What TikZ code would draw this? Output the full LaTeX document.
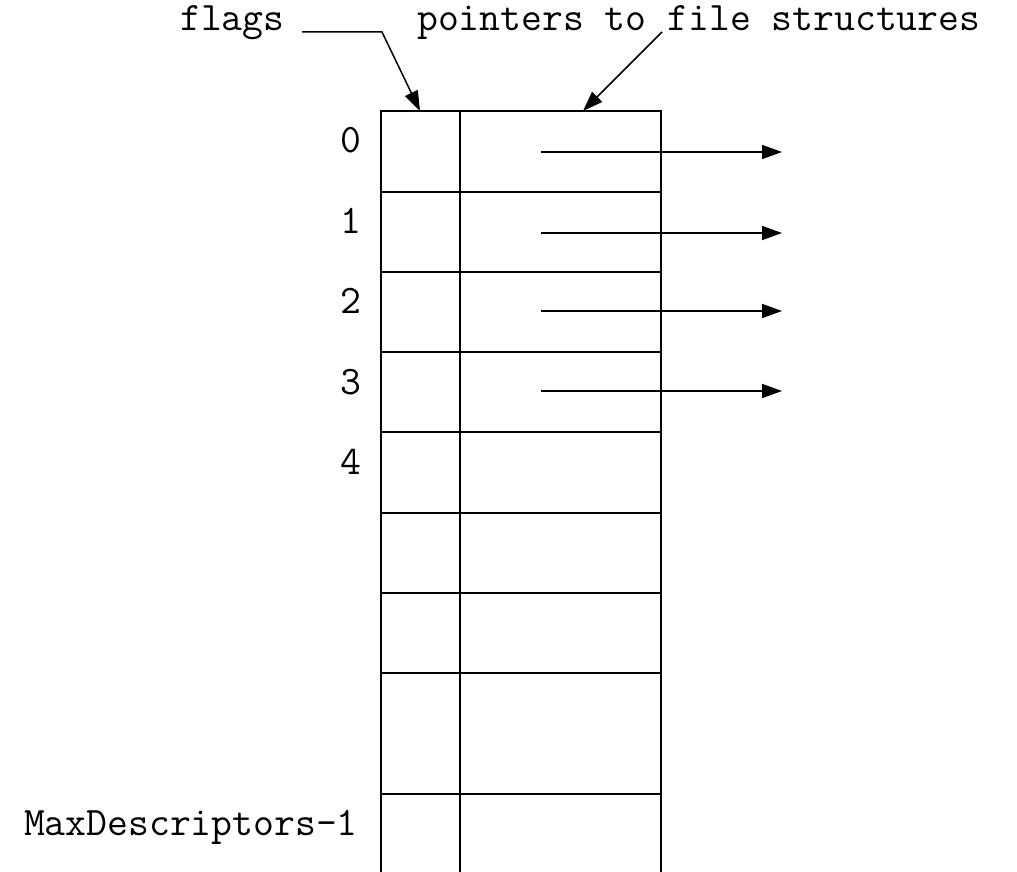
\documentclass[tikz,border=0pt]{standalone}
\usetikzlibrary{arrows.meta}
\begin{document}
\begin{tikzpicture}[x=1pt,y=-1pt,
  grid/.style={line width=1.5pt},
  ptr/.style={line width=1.5pt,-{Triangle[length=20pt,width=14pt]}},
  lbl/.style={inner sep=0pt,font=\ttfamily\fontsize{40.5}{46}\selectfont}]
\useasboundingbox (0,0) rectangle (1017,872);
% table
\draw[grid] (381,872) -- (381,111) -- (661,111) -- (661,872);
\draw[grid] (460,111) -- (460,872);
\foreach \y in {192,272,352,432,513,593,673,794}
  \draw[grid] (381,\y) -- (661,\y);
% row labels
\node[lbl,anchor=base east] (r0) at (362,153) {0};
\node[lbl,anchor=base east] (r1) at (362,233) {1};
\node[lbl,anchor=base east] (r2) at (362,313) {2};
\node[lbl,anchor=base east] (r3) at (362,394) {3};
\node[lbl,anchor=base east] (r4) at (362,474) {4};
\node[lbl,anchor=base east] (rmax) at (358,835) {MaxDescriptors-1};
% pointer arrows
\foreach \i/\y in {0/152,1/233,2/311,3/391}{
  \coordinate (s\i) at (541,\y);
  \coordinate (e\i) at (782,\y);
  \draw[ptr] (s\i) -- (e\i);
}
% top labels
\node[lbl,anchor=base west] (flags) at (180,31) {flags};
\node[lbl,anchor=base west] (ptrs) at (417,31) {pointers to file structures};
\coordinate (fs) at (302,32);
\coordinate (fk) at (382,32);
\coordinate (ft) at (420,111);
\draw[ptr] (fs) -- (fk) -- (ft);
\coordinate (ps) at (662,32);
\coordinate (pt) at (583,111);
\draw[ptr] (ps) -- (pt);
\end{tikzpicture}
\end{document}
